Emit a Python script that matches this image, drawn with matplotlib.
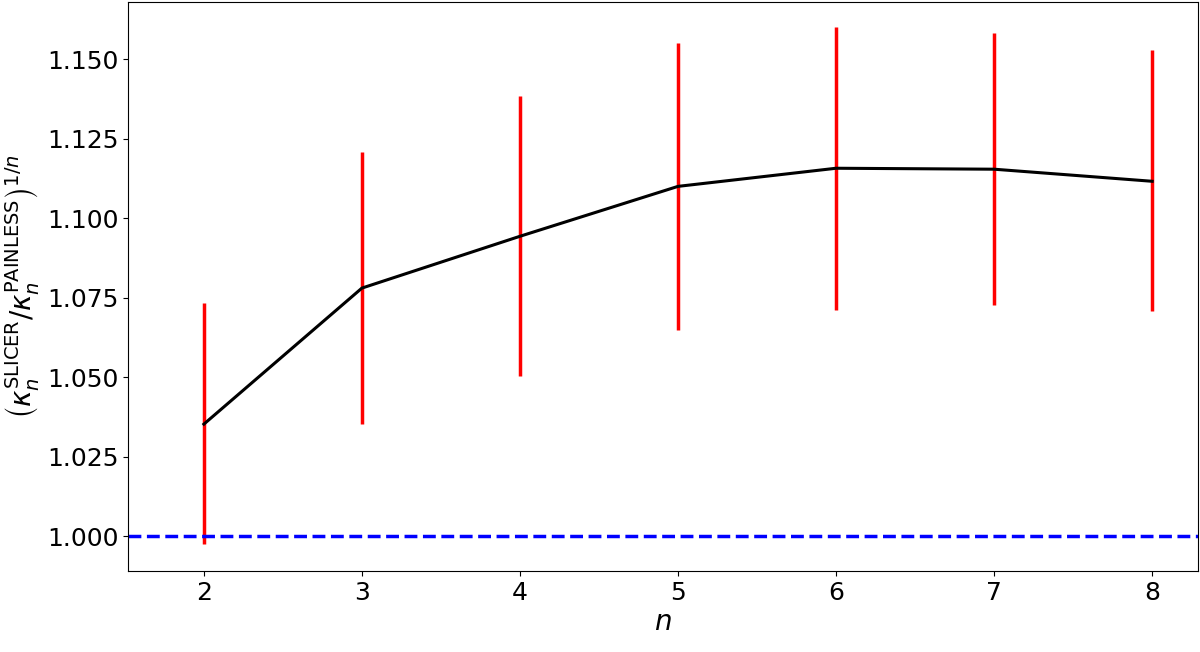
import matplotlib
matplotlib.use("Agg")
import matplotlib.pyplot as plt

n = [2, 3, 4, 5, 6, 7, 8]
ratio = [1.0352, 1.0780, 1.0943, 1.1100, 1.1157, 1.1154, 1.1116]
err_lo = [0.0377, 0.0428, 0.0440, 0.0452, 0.0446, 0.0428, 0.0408]
err_hi = [0.0381, 0.0428, 0.0441, 0.0450, 0.0443, 0.0428, 0.0412]

fig = plt.figure(figsize=(12, 6.52), dpi=100)
ax = fig.add_axes([128/1200, 1-571/652, (1198-128)/1200, (571-2)/652])
ax.errorbar(n, ratio, yerr=[err_lo, err_hi], color='black', ecolor='red',
            elinewidth=2.5, lw=2.2, capsize=0)
ax.axhline(1.0, color='blue', ls='--', lw=2.5)
ax.set_xlim(1.52, 8.29)
ax.set_ylim(0.989, 1.168)
ax.set_yticks([1.000, 1.025, 1.050, 1.075, 1.100, 1.125, 1.150])
ax.set_yticklabels([f"{v:.3f}" for v in [1.000, 1.025, 1.050, 1.075, 1.100, 1.125, 1.150]])
ax.tick_params(labelsize=18)
ax.set_xlabel(r'$n$', fontsize=20, labelpad=2)
ax.set_ylabel(r'$\left(\kappa_n^{\mathrm{SLICER}}/\kappa_n^{\mathrm{PAINLESS}}\right)^{1/n}$', fontsize=20)
fig.savefig("out.png", dpi=100)
